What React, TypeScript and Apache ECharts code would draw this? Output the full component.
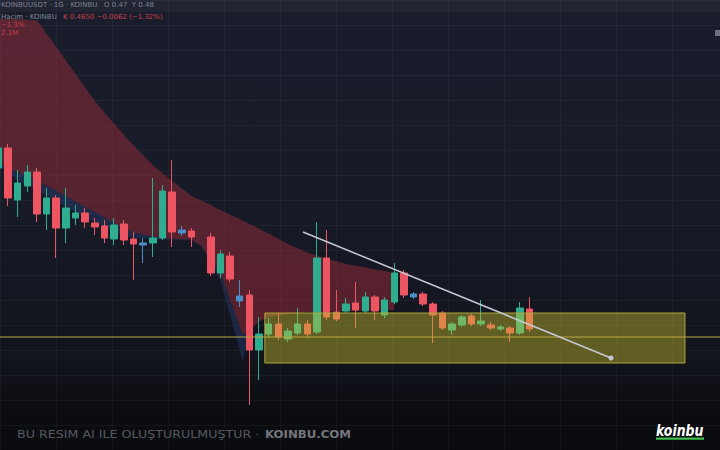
import React, { useEffect, useRef } from "react";
import * as echarts from "echarts";

// x unit = bar index (one per session); axis window in bar units
const X_MIN = 0.176;
const X_MAX = 74.73;

// [open, close, low, high]
const candles: (number[] | null)[] = [
  [282, 302, 278, 310],
  [302, 252, 244, 306],
  [250, 267, 233, 280],
  [264, 278, 258, 285],
  [278, 236, 228, 282],
  [236, 252, 220, 262],
  [252, 222, 192, 255],
  [222, 242, 207, 262],
  [232, 237, 225, 245],
  [237, 228, 222, 242],
  [227, 223, 215, 232],
  [224, 212, 207, 230],
  [211, 225, 205, 232],
  [226, 210, 205, 230],
  [211, 206, 170, 218],
  [205, 207, 187, 212],
  [207, 212, 193, 272],
  [212, 259, 210, 265],
  [258, 218, 203, 290],
  [217, 220, 214, 224],
  [219, 213, 203, 222],
  null,
  [213, 177, 174, 217],
  [177, 196, 172, 200],
  [194, 171, 168, 198],
  [149, 154, 143, 170],
  [155, 100, 45, 160],
  [100, 116, 70, 133],
  [116, 126, 112, 132],
  [126, 113, 110, 137],
  [111, 119, 108, 122],
  [117, 126, 115, 142],
  [126, 116, 113, 130],
  [118, 192, 116, 228],
  [192, 133, 130, 220],
  [138, 131, 129, 160],
  [139, 146, 137, 152],
  [147, 140, 122, 168],
  [139, 153, 137, 158],
  [153, 139, 130, 155],
  [135, 150, 132, 153],
  [148, 177, 146, 187],
  [177, 155, 152, 180],
  [153, 156, 151, 158],
  [156, 146, 144, 158],
  [146, 135, 107, 148],
  [137, 122, 120, 139],
  [120, 126, 115, 128],
  [125, 133, 123, 135],
  [134, 126, 124, 136],
  [126, 129, 124, 150],
  [125, 122, 120, 128],
  [121, 123, 119, 125],
  [122, 117, 108, 124],
  [117, 142, 115, 148],
  [141, 121, 118, 153],
];

const neutralCandles = [15, 19, 25, 43];

const cloudX = [-0.7, 0, 2, 4, 6, 8, 10, 12, 14, 16, 18, 20, 21, 22, 23, 24, 25, 25.3, 26, 27, 28, 30, 32, 34, 36, 38, 40, 41];
const cloudUpper = [431, 431, 431, 429.5, 403, 376, 349, 326, 304.5, 285, 269, 254, 249.5, 245, 240, 235.3, 231, 229.5, 226.3, 221.3, 216.3, 206, 197.6, 191.4, 186, 182.4, 179, 177];
const cloudLower = [290, 287, 278, 269.6, 259.3, 248.3, 238, 227, 217.3, 213.4, 211.3, 210.3, 204.3, 191, 177.5, 150.6, 124, 115, 120.4, 128.6, 133, 136, 138, 138.5, 139, 139.5, 140, 140];
const cloudBase = [288, 285, 270, 260, 248, 238, 228, 218, 212, 211, 210.5, 209.5, 203.5, 188, 170, 135, 100, 88, 119.5, 128.6, 133, 136, 138, 138.5, 139, 139.5, 140, 140];

const zoneX = [27.6, 71.1];
const zonePrice = [87, 137];
const supportPrice = 113;
const trendX = [31.55, 63.45];
const trendPrice = [218, 92];

const UP = "#2eae8e";
const DOWN = "#ec5561";
const NEUTRAL = "#4b8ec8";

export default function App() {
  const ref = useRef<HTMLDivElement>(null);

  useEffect(() => {
    if (!ref.current) return;
    const chart = echarts.init(ref.current, null, { renderer: "svg" });

    const candleData: any[] = [];
    candles.forEach((c, i) => {
      if (!c) return;
      if (neutralCandles.includes(i)) {
        candleData.push({
          value: [i, ...c],
          itemStyle: { color: NEUTRAL, color0: NEUTRAL, borderColor: NEUTRAL, borderColor0: NEUTRAL },
        });
      } else {
        candleData.push([i, ...c]);
      }
    });

    const hiddenAxis = {
      axisLabel: { show: false },
      axisTick: { show: false },
      axisLine: { show: false },
    };
    const gridLine = { show: true, lineStyle: { color: "rgba(255,255,255,0.035)", width: 1 } };
    const font = "DejaVu Sans";

    chart.setOption({
      animation: false,
      backgroundColor: "transparent",
      grid: { left: 0, right: 0, top: 0, bottom: 0 },
      xAxis: [
        { type: "value", min: X_MIN, max: X_MAX, ...hiddenAxis, splitLine: { show: false } },
        { type: "value", min: 0, max: 72, interval: 5.6, ...hiddenAxis, splitLine: gridLine },
      ],
      yAxis: {
        type: "value",
        min: 0,
        max: 450,
        interval: 25,
        ...hiddenAxis,
        splitLine: gridLine,
      },
      series: [
        {
          type: "custom",
          name: "cloud",
          xAxisIndex: 0,
          data: [[cloudX[0], cloudUpper[0]]],
          silent: true,
          z: 1,
          renderItem: (_p: any, api: any) => {
            const up = cloudX.map((x, i) => api.coord([x, cloudUpper[i]]));
            const lo = cloudX.map((x, i) => api.coord([x, cloudLower[i]]));
            const ba = cloudX.map((x, i) => api.coord([x, cloudBase[i]]));
            return {
              type: "group",
              children: [
                {
                  type: "polygon",
                  shape: { points: lo.concat(ba.slice().reverse()) },
                  style: { fill: "rgba(60,95,190,0.24)" },
                },
                {
                  type: "polygon",
                  shape: { points: up.concat(lo.slice().reverse()) },
                  style: { fill: "rgba(165,45,60,0.46)" },
                },
              ],
            };
          },
        },
        {
          type: "candlestick",
          xAxisIndex: 0,
          data: candleData,
          encode: { x: 0, y: [1, 2, 3, 4] },
          barWidth: 7,
          itemStyle: {
            color: UP,
            color0: DOWN,
            borderColor: UP,
            borderColor0: DOWN,
            borderWidth: 1,
          },
          z: 3,
        },
        {
          type: "custom",
          name: "zone",
          xAxisIndex: 0,
          data: [[zoneX[0], zoneX[1], zonePrice[0], zonePrice[1]]],
          encode: { x: [0, 1], y: [2, 3] },
          renderItem: (_p: any, api: any) => {
            const p0 = api.coord([api.value(0), api.value(3)]);
            const p1 = api.coord([api.value(1), api.value(2)]);
            return {
              type: "rect",
              shape: { x: p0[0], y: p0[1], width: p1[0] - p0[0], height: p1[1] - p0[1] },
              style: { fill: "rgba(205,195,45,0.42)", stroke: "#b0a63d", lineWidth: 1 },
            };
          },
          silent: true,
          z: 4,
        },
        {
          type: "custom",
          name: "support",
          xAxisIndex: 0,
          data: [[X_MIN, supportPrice]],
          encode: { x: 0, y: 1 },
          renderItem: (params: any, api: any) => {
            const p = api.coord([api.value(0), api.value(1)]);
            const cs = params.coordSys;
            return {
              type: "line",
              shape: { x1: cs.x, y1: p[1], x2: cs.x + cs.width, y2: p[1] },
              style: { stroke: "#b8a640", lineWidth: 1 },
            };
          },
          silent: true,
          z: 5,
        },
        {
          type: "line",
          name: "trend",
          xAxisIndex: 0,
          data: [
            { value: [trendX[0], trendPrice[0]], symbol: "none" },
            { value: [trendX[1], trendPrice[1]], symbol: "circle", symbolSize: 5 },
          ],
          showSymbol: true,
          lineStyle: { color: "#c6c9d4", width: 1.5 },
          itemStyle: { color: "#c6c9d4" },
          silent: true,
          z: 6,
        },
      ],
      graphic: [
        {
          type: "rect",
          shape: { x: 0, y: 0, width: 720, height: 12 },
          style: { fill: "rgba(255,255,255,0.03)" },
          silent: true,
          z: 0,
        },
        {
          type: "text",
          x: 1,
          y: 5,
          style: { text: "KOINBUUSDT · 1G · KOINBU   O 0.47  Y 0.48", fill: "#7f8494", fontSize: 7, fontFamily: font, verticalAlign: "middle" },
          z: 10,
        },
        {
          type: "text",
          x: 1,
          y: 17,
          style: { text: "Hacim · KOINBU", fill: "#7f8494", fontSize: 7, fontFamily: font, verticalAlign: "middle" },
          z: 10,
        },
        {
          type: "text",
          x: 63,
          y: 17,
          style: { text: "K 0.4650 −0.0062 (−1.32%)", fill: "#c8414c", fontSize: 7, fontFamily: font, verticalAlign: "middle" },
          z: 10,
        },
        {
          type: "text",
          x: 1,
          y: 25,
          style: { text: "−1.3%", fill: "#c8414c", fontSize: 7, fontFamily: font, verticalAlign: "middle" },
          z: 10,
        },
        {
          type: "text",
          x: 1,
          y: 33,
          style: { text: "2.1M", fill: "#c8414c", fontSize: 7, fontFamily: font, verticalAlign: "middle" },
          z: 10,
        },
        {
          type: "rect",
          shape: { x: 715, y: 30, width: 5, height: 6 },
          style: { fill: "#6c7080" },
          z: 10,
        },
        {
          type: "text",
          x: 17,
          y: 434.5,
          scaleX: 1.15,
          style: { text: "BU RESIM AI ILE OLUŞTURULMUŞTUR ·", fill: "#56595f", fontSize: 11, fontFamily: font, verticalAlign: "middle" },
          z: 10,
        },
        {
          type: "text",
          x: 265,
          y: 434.5,
          scaleX: 1.07,
          style: { text: "KOINBU.COM", fill: "#74777e", fontSize: 11, fontWeight: "bold", fontFamily: font, verticalAlign: "middle" },
          z: 10,
        },
        {
          type: "text",
          x: 656,
          y: 430,
          scaleX: 0.78,
          style: { text: "koinbu", fill: "#ffffff", fontSize: 16, fontWeight: 900, fontStyle: "italic", fontFamily: font, verticalAlign: "middle" },
          z: 10,
        },
        {
          type: "rect",
          shape: { x: 656, y: 437.5, width: 48, height: 2.2 },
          style: { fill: "#3fbf4f" },
          z: 10,
        },
      ],
    });

    return () => chart.dispose();
  }, []);

  return (
    <div
      ref={ref}
      style={{
        position: "fixed",
        left: 0,
        top: 0,
        width: 720,
        height: 450,
        background: "linear-gradient(180deg, #1a1e2c 0%, #171b27 45%, #12141c 80%, #0c0d12 92%, #0a0b0e 100%)",
      }}
    />
  );
}
